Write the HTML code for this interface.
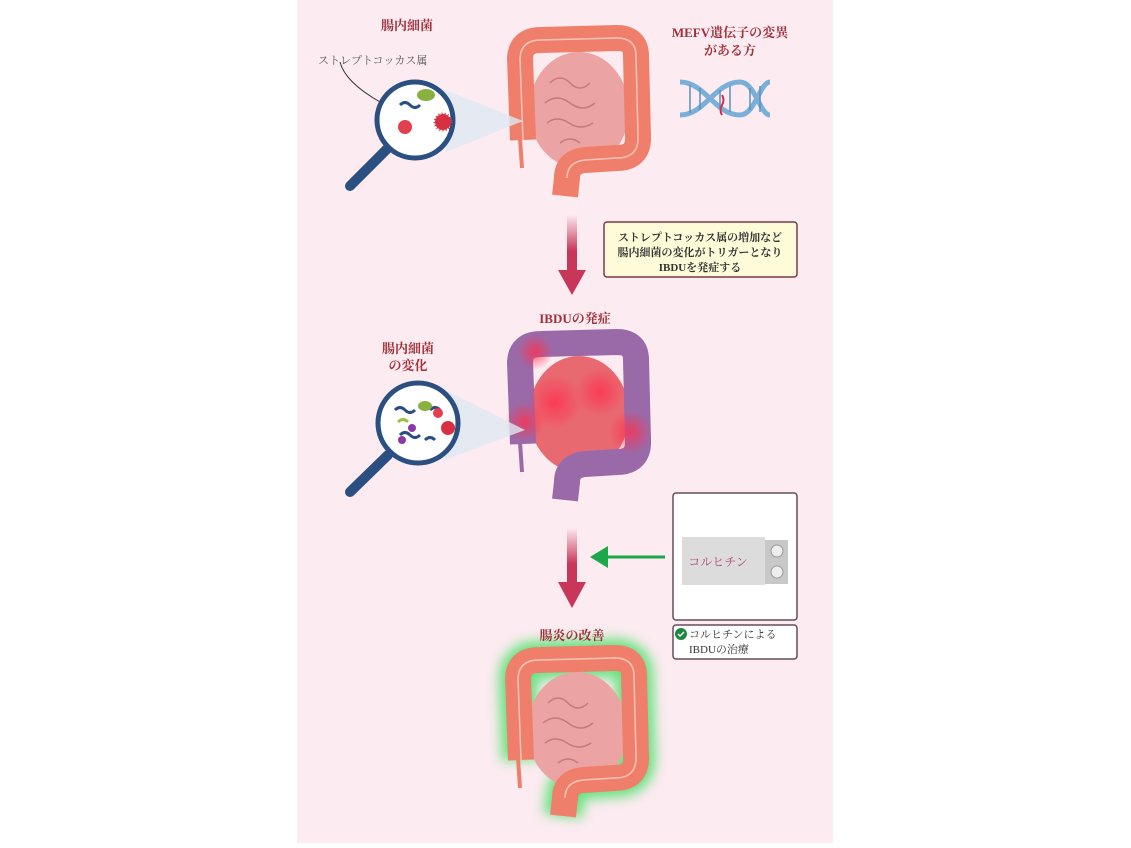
<!DOCTYPE html>
<html><head><meta charset="utf-8"><style>
body{margin:0;width:1131px;height:848px;background:#fff;overflow:hidden;font-family:"Liberation Serif","Noto Serif CJK SC","Noto Sans CJK JP",serif}
svg{position:absolute;left:0;top:0}
</style></head><body>
<svg width="1131" height="848" viewBox="0 0 1131 848" xmlns="http://www.w3.org/2000/svg">
<defs>
<linearGradient id="ag" x1="0" y1="0" x2="0" y2="1"><stop offset="0" stop-color="#c8375a" stop-opacity="0"/><stop offset="0.6" stop-color="#c8375a"/></linearGradient>
<radialGradient id="inf"><stop offset="0" stop-color="#ff3050" stop-opacity="0.8"/><stop offset="1" stop-color="#ff3050" stop-opacity="0"/></radialGradient>
<filter id="glow" x="-30%" y="-30%" width="160%" height="160%"><feGaussianBlur stdDeviation="6"/></filter>
</defs>
<rect x="297" y="0" width="536" height="843" fill="#fcebf0"/>

<!-- colon 1 -->
<g transform="translate(505,28)">
<ellipse cx="74" cy="82" rx="50" ry="58" fill="#eba3a3"/>
<path d="M45 55 q10 -10 20 0 t20 0 M40 75 q12 -10 25 0 t25 0 M42 95 q10 -8 22 0 t24 0 M55 115 q10 -8 20 0" fill="none" stroke="#c77a7a" stroke-width="1.5"/>
<path d="M18 112 L15 30 Q16 12 36 12 L112 10 Q131 10 131 28 L133 108 Q134 130 112 130 L80 132 Q62 134 62 150 L60 168" fill="none" stroke="#ef7f6b" stroke-width="26" stroke-linejoin="round"/>
<path d="M18 112 L15 30 Q16 12 36 12 L112 10 Q131 10 131 28 L133 108 Q134 130 112 130 L80 132 Q62 134 62 150" fill="none" stroke="#f8c4b8" stroke-width="1.5"/>
<path d="M15 110 l2 30" stroke="#ef7f6b" stroke-width="4"/>
</g>
<!-- colon 2 -->
<g transform="translate(505,332)">
<ellipse cx="74" cy="82" rx="50" ry="58" fill="#e86a70"/>
<path d="M18 112 L15 30 Q16 12 36 12 L112 10 Q131 10 131 28 L133 108 Q134 130 112 130 L80 132 Q62 134 62 150 L60 168" fill="none" stroke="#9a6aa8" stroke-width="26" stroke-linejoin="round"/>
<circle cx="50" cy="70" r="28" fill="url(#inf)"/><circle cx="95" cy="60" r="25" fill="url(#inf)"/><circle cx="20" cy="90" r="20" fill="url(#inf)"/><circle cx="125" cy="100" r="22" fill="url(#inf)"/><circle cx="30" cy="20" r="18" fill="url(#inf)"/>
<path d="M15 110 l2 30" stroke="#9a6aa8" stroke-width="4"/>
</g>
<!-- colon 3 -->
<g transform="translate(503,648)">
<path d="M18 112 L15 30 Q16 12 36 12 L112 10 Q131 10 131 28 L133 108 Q134 130 112 130 L80 132 Q62 134 62 150 L60 168" fill="none" stroke="#40e060" stroke-width="38" stroke-linejoin="round" filter="url(#glow)" opacity="0.8"/>
<ellipse cx="74" cy="82" rx="50" ry="58" fill="#eba3a3"/>
<path d="M45 55 q10 -10 20 0 t20 0 M40 75 q12 -10 25 0 t25 0 M42 95 q10 -8 22 0 t24 0 M55 115 q10 -8 20 0" fill="none" stroke="#c77a7a" stroke-width="1.5"/>
<path d="M18 112 L15 30 Q16 12 36 12 L112 10 Q131 10 131 28 L133 108 Q134 130 112 130 L80 132 Q62 134 62 150 L60 168" fill="none" stroke="#ef7f6b" stroke-width="26" stroke-linejoin="round"/>
<path d="M18 112 L15 30 Q16 12 36 12 L112 10 Q131 10 131 28 L133 108 Q134 130 112 130 L80 132 Q62 134 62 150" fill="none" stroke="#f8c4b8" stroke-width="1.5"/>
<path d="M15 110 l2 30" stroke="#ef7f6b" stroke-width="4"/>
</g>

<!-- magnifier 1 -->
<polygon points="440,88 523,121 446,152" fill="#dfe8f2" opacity="0.8"/>
<line x1="388" y1="148" x2="350" y2="186" stroke="#2b4f80" stroke-width="10" stroke-linecap="round"/>
<circle cx="415" cy="120" r="38" fill="#fff" stroke="#2b4f80" stroke-width="5"/>
<path d="M400 105 q5 -5 10 0 t10 0" stroke="#2b4f80" stroke-width="3" fill="none"/>
<ellipse cx="426" cy="95" rx="9" ry="6" fill="#8ab040"/>
<circle cx="405" cy="127" r="7" fill="#e04050"/>
<circle cx="443" cy="122" r="8" fill="#d83040" stroke="#d83040" stroke-width="3" stroke-dasharray="1 2"/>
<path d="M340 62 q5 20 40 40" stroke="#333" stroke-width="1" fill="none"/>
<!-- magnifier 2 -->
<polygon points="445,390 525,430 445,460" fill="#dfe8f2" opacity="0.8"/>
<line x1="388" y1="455" x2="350" y2="492" stroke="#2b4f80" stroke-width="10" stroke-linecap="round"/>
<circle cx="418" cy="423" r="40" fill="#fff" stroke="#2b4f80" stroke-width="5"/>
<path d="M395 410 q5 -5 10 0 t10 0 M400 435 q5 -5 10 0 t10 0 M425 440 q5 -5 10 0 M430 410 q5 -5 10 0" stroke="#2b4f80" stroke-width="3" fill="none"/>
<path d="M398 422 q5 -5 10 0" stroke="#a0c040" stroke-width="3" fill="none"/>
<ellipse cx="425" cy="406" rx="7" ry="5" fill="#8ab040"/>
<circle cx="438" cy="413" r="5" fill="#e04050"/><circle cx="448" cy="428" r="7" fill="#d83040"/>
<circle cx="412" cy="428" r="4" fill="#8a3aa0"/><circle cx="402" cy="440" r="4" fill="#8a3aa0"/>

<!-- DNA -->
<g stroke="#7ab0d8" stroke-width="5" fill="none">
<path d="M680 82 C705 82 715 115 740 115 C755 115 760 82 770 82"/>
<path d="M680 115 C705 115 715 82 740 82 C755 82 760 115 770 115"/>
</g>
<g stroke="#5a90c0" stroke-width="1.5"><path d="M690 85v28M700 88v22M720 90v18M730 86v26M750 88v22M760 86v26"/></g>
<path d="M722 95 q3 5 0 10 t0 10" stroke="#d03050" stroke-width="2" fill="none"/>

<!-- arrows -->
<rect x="567" y="215" width="10" height="60" fill="url(#ag)"/>
<polygon points="558,270 586,270 572,295" fill="#c8375a"/>
<rect x="567" y="528" width="10" height="60" fill="url(#ag)"/>
<polygon points="558,582 586,582 572,608" fill="#c8375a"/>
<line x1="605" y1="557" x2="665" y2="557" stroke="#1aa84a" stroke-width="3"/>
<polygon points="590,557 608,546 608,568" fill="#1aa84a"/>

<!-- boxes -->
<rect x="604" y="222" width="193" height="55" rx="3" fill="#fdfbd8" stroke="#7a3a4a" stroke-width="1.5"/>
<rect x="673" y="493" width="124" height="127" rx="3" fill="#fff" stroke="#6a4a5a" stroke-width="1.5"/>
<rect x="682" y="537" width="83" height="48" fill="#dcdcdc"/>
<rect x="765" y="540" width="23" height="44" fill="#c8c8c8"/>
<circle cx="777" cy="551" r="6" fill="#eee" stroke="#999"/><circle cx="777" cy="572" r="6" fill="#eee" stroke="#999"/>
<rect x="673" y="625" width="124" height="34" rx="3" fill="#fff" stroke="#6a4a5a" stroke-width="1.5"/>
<circle cx="681" cy="634" r="6" fill="#1a8a3a"/>
<path d="M678 634 l2 2 l4 -4" stroke="#fff" stroke-width="1.5" fill="none"/>

<!-- text -->
<g font-weight="bold" fill="#a0303a" font-size="13" text-anchor="middle">
<text x="407" y="30">腸内細菌</text>
<text x="730" y="37">MEFV遺伝子の変異</text>
<text x="730" y="55">がある方</text>
<text x="575" y="323">IBDUの発症</text>
<text x="408" y="353">腸内細菌</text>
<text x="408" y="370">の変化</text>
<text x="572" y="640">腸炎の改善</text>
</g>
<text x="318" y="64" font-size="11" fill="#555">ストレプトコッカス属</text>
<g font-size="11" fill="#333" font-weight="bold" text-anchor="middle">
<text x="700" y="241">ストレプトコッカス属の増加など</text>
<text x="700" y="256">腸内細菌の変化がトリガーとなり</text>
<text x="700" y="271">IBDUを発症する</text>
</g>
<text x="718" y="566" font-size="12" fill="#b04a7a" text-anchor="middle">コルヒチン</text>
<text x="689" y="638" font-size="11" fill="#333">コルヒチンによる</text>
<text x="689" y="653" font-size="11" fill="#333">IBDUの治療</text>
</svg>
</body></html>
